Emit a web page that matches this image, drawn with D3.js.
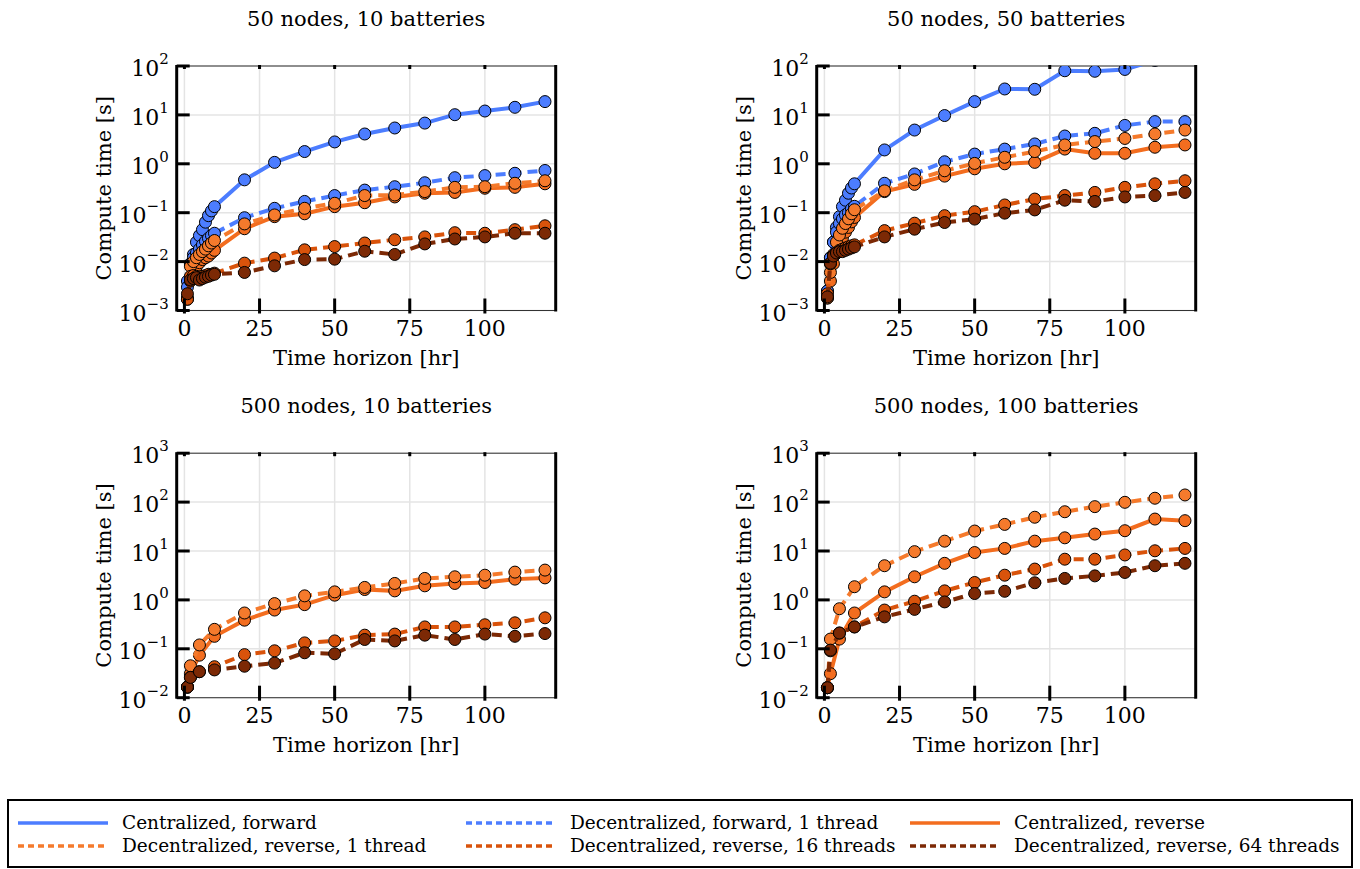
<!DOCTYPE html>
<html>
<head>
<meta charset="utf-8">
<script src="https://cdn.jsdelivr.net/npm/d3@7"></script>
<style>
  body { margin: 0; background: #fff; }
</style>
</head>
<body>
<svg id="chart" width="1360" height="869"></svg>
<script>
// horizons (hours)
var xTop = [1, 2, 3, 4, 5, 6, 7, 8, 9, 10, 20, 30, 40, 50, 60, 70, 80, 90, 100, 110, 120];
var xBottom = [1, 2, 5, 10, 20, 30, 40, 50, 60, 70, 80, 90, 100, 110, 120];
var xTicks = [0, 25, 50, 75, 100];

// 50 nodes, 10 batteries
var cf1 = [0.004, 0.009, 0.014, 0.025, 0.034, 0.045, 0.064, 0.087, 0.109, 0.133, 0.47, 1.07, 1.78, 2.8, 4.07, 5.4, 6.8, 10.1, 12, 14.3, 18.7];
var df1 = [0.003, 0.009, 0.012, 0.015, 0.018, 0.022, 0.026, 0.03, 0.034, 0.038, 0.079, 0.123, 0.17, 0.224, 0.29, 0.34, 0.41, 0.52, 0.574, 0.64, 0.73];
var cr1 = [0.0018, 0.004, 0.0065, 0.008, 0.0095, 0.011, 0.012, 0.013, 0.015, 0.017, 0.047, 0.083, 0.095, 0.133, 0.16, 0.21, 0.25, 0.26, 0.316, 0.33, 0.39];
var d1r1 = [0.0017, 0.008, 0.01, 0.012, 0.014, 0.016, 0.018, 0.021, 0.024, 0.027, 0.059, 0.09, 0.123, 0.156, 0.224, 0.23, 0.27, 0.33, 0.34, 0.4, 0.45];
var d16r1 = [0.0017, 0.005, 0.0052, 0.005, 0.0048, 0.005, 0.0052, 0.0055, 0.0055, 0.0058, 0.0093, 0.0118, 0.0174, 0.0203, 0.024, 0.028, 0.032, 0.039, 0.038, 0.045, 0.054];
var d64r1 = [0.0022, 0.0042, 0.0045, 0.0047, 0.0042, 0.0045, 0.0048, 0.005, 0.0053, 0.0055, 0.006, 0.0082, 0.011, 0.0112, 0.0163, 0.014, 0.023, 0.029, 0.032, 0.038, 0.038];

// 50 nodes, 50 batteries
var cf2 = [0.0025, 0.012, 0.025, 0.05, 0.083, 0.133, 0.18, 0.25, 0.32, 0.39, 1.92, 4.9, 9.7, 18.7, 33.9, 33.4, 80, 78, 85, 130, 170];
var df2 = [0.0025, 0.012, 0.025, 0.04, 0.06, 0.075, 0.09, 0.1, 0.12, 0.135, 0.4, 0.62, 1.1, 1.58, 2.0, 2.55, 3.7, 4.2, 6.1, 7.3, 7.3];
var cr2 = [0.0018, 0.004, 0.009, 0.015, 0.022, 0.03, 0.04, 0.05, 0.065, 0.08, 0.27, 0.38, 0.56, 0.79, 1.0, 1.07, 2.0, 1.64, 1.64, 2.18, 2.43];
var d1r2 = [0.0018, 0.006, 0.014, 0.025, 0.035, 0.048, 0.06, 0.075, 0.095, 0.115, 0.28, 0.47, 0.72, 1.02, 1.36, 1.78, 2.43, 2.85, 3.3, 4.07, 4.9];
var d16r2 = [0.0022, 0.009, 0.013, 0.015, 0.017, 0.018, 0.019, 0.02, 0.021, 0.022, 0.043, 0.061, 0.087, 0.105, 0.144, 0.19, 0.224, 0.26, 0.33, 0.39, 0.45];
var d64r2 = [0.0019, 0.0093, 0.013, 0.015, 0.016, 0.016, 0.017, 0.018, 0.019, 0.02, 0.032, 0.046, 0.063, 0.074, 0.098, 0.114, 0.18, 0.17, 0.21, 0.224, 0.26];

// 500 nodes, 10 batteries
var cr3 = [0.0165, 0.031, 0.074, 0.18, 0.385, 0.62, 0.8, 1.25, 1.63, 1.53, 1.94, 2.17, 2.27, 2.66, 2.82];
var d1r3 = [0.0165, 0.045, 0.12, 0.25, 0.54, 0.84, 1.21, 1.46, 1.8, 2.17, 2.75, 2.97, 3.2, 3.7, 4.07];
var d16r3 = [0.0165, 0.026, 0.034, 0.043, 0.076, 0.091, 0.132, 0.145, 0.19, 0.2, 0.28, 0.28, 0.31, 0.34, 0.43];
var d64r3 = [0.0165, 0.026, 0.034, 0.037, 0.044, 0.051, 0.083, 0.079, 0.155, 0.145, 0.19, 0.155, 0.2, 0.18, 0.205];

// 500 nodes, 100 batteries
var cr4 = [0.016, 0.031, 0.158, 0.54, 1.46, 2.97, 5.6, 9.3, 11.3, 15.9, 18.6, 22.2, 26, 45, 41.7];
var d1r4 = [0.016, 0.158, 0.66, 1.86, 5.0, 9.7, 15.9, 25.6, 35, 49, 63.5, 80.7, 99, 120, 140];
var d16r4 = [0.016, 0.091, 0.21, 0.28, 0.62, 0.94, 1.53, 2.27, 3.2, 4.27, 6.8, 6.8, 8.3, 10.1, 11.3];
var d64r4 = [0.016, 0.094, 0.21, 0.28, 0.45, 0.64, 0.91, 1.35, 1.5, 2.24, 2.75, 3.1, 3.64, 5.0, 5.6];

var seriesNames = ['Centralized, forward', 'Decentralized, forward, 1 thread', 'Centralized, reverse',
  'Decentralized, reverse, 1 thread', 'Decentralized, reverse, 16 threads', 'Decentralized, reverse, 64 threads'];
var seriesColors = ['#4c7dff', '#4c7dff', '#f36d1f', '#f57a2c', '#d9530b', '#7c2905'];
var seriesDashed = [false, true, false, true, true, true];

var panels = [
  { title: '50 nodes, 10 batteries', x: xTop, ylim: [1e-3, 1e2], col: 0, row: 0, data: [cf1, df1, cr1, d1r1, d16r1, d64r1] },
  { title: '50 nodes, 50 batteries', x: xTop, ylim: [1e-3, 1e2], col: 1, row: 0, data: [cf2, df2, cr2, d1r2, d16r2, d64r2] },
  { title: '500 nodes, 10 batteries', x: xBottom, ylim: [1e-2, 1e3], col: 0, row: 1, data: [null, null, cr3, d1r3, d16r3, d64r3] },
  { title: '500 nodes, 100 batteries', x: xBottom, ylim: [1e-2, 1e3], col: 1, row: 1, data: [null, null, cr4, d1r4, d16r4, d64r4] }
];

var FONT = 'DejaVu Serif';
var svg = d3.select('#chart');
var plotW = 379, plotH = 244.5;
var lefts = [176.7, 816.7], tops = [66, 453.2];

function label(sel) {
  return sel.style('font-family', FONT).attr('fill', '#000');
}

panels.forEach(function(p, pi) {
  var x0 = lefts[p.col], y0 = tops[p.row];
  var pad = (120 - 1) * 0.03;
  var xScale = d3.scaleLinear().domain([1 - pad, 120 + pad]).range([0, plotW]);
  var yScale = d3.scaleLog().domain(p.ylim).range([plotH, 0]);
  var yTicks = d3.range(Math.log10(p.ylim[0]), Math.log10(p.ylim[1]) + 1);

  var g = svg.append('g').attr('transform', 'translate(' + x0 + ',' + y0 + ')');

  g.append('defs').append('clipPath').attr('id', 'clip' + pi)
    .append('rect').attr('x', 0).attr('y', 0).attr('width', plotW).attr('height', plotH);

  // grid
  g.append('g').selectAll('line').data(xTicks).enter().append('line')
    .attr('x1', function(d) { return xScale(d); }).attr('x2', function(d) { return xScale(d); })
    .attr('y1', 0).attr('y2', plotH)
    .attr('stroke', '#e4e4e4').attr('stroke-width', 1.5);
  g.append('g').selectAll('line').data(yTicks).enter().append('line')
    .attr('x1', 0).attr('x2', plotW)
    .attr('y1', function(e) { return yScale(Math.pow(10, e)); })
    .attr('y2', function(e) { return yScale(Math.pow(10, e)); })
    .attr('stroke', '#e4e4e4').attr('stroke-width', 1.5);

  // thin box
  g.append('rect').attr('x', 0).attr('y', 0).attr('width', plotW).attr('height', plotH)
    .attr('fill', 'none').attr('stroke', '#333').attr('stroke-width', 1);

  // series
  var line = d3.line()
    .defined(function(d) { return d[1] != null; })
    .x(function(d) { return xScale(d[0]); })
    .y(function(d) { return yScale(d[1]); });

  var plotG = g.append('g').attr('clip-path', 'url(#clip' + pi + ')');
  p.data.forEach(function(vals, si) {
    if (!vals) { return; }
    var pts = p.x.map(function(xv, i) { return [xv, vals[i]]; });
    plotG.append('path').datum(pts)
      .attr('d', line)
      .attr('fill', 'none')
      .attr('stroke', seriesColors[si])
      .attr('stroke-width', 4)
      .attr('stroke-dasharray', seriesDashed[si] ? '10,6' : null);
    plotG.append('g').selectAll('circle').data(pts).enter().append('circle')
      .attr('cx', function(d) { return xScale(d[0]); })
      .attr('cy', function(d) { return yScale(d[1]); })
      .attr('r', 6)
      .attr('fill', seriesColors[si])
      .attr('stroke', '#000')
      .attr('stroke-width', 1);
  });

  // spines
  g.append('line').attr('x1', 0).attr('x2', 0).attr('y1', -1).attr('y2', plotH + 1)
    .attr('stroke', '#000').attr('stroke-width', 3);
  g.append('line').attr('x1', plotW).attr('x2', plotW).attr('y1', -1).attr('y2', plotH + 1)
    .attr('stroke', '#000').attr('stroke-width', 3);

  // ticks
  g.append('g').selectAll('line').data(yTicks).enter().append('line')
    .attr('x1', 0).attr('x2', 13)
    .attr('y1', function(e) { return yScale(Math.pow(10, e)); })
    .attr('y2', function(e) { return yScale(Math.pow(10, e)); })
    .attr('stroke', '#000').attr('stroke-width', 3);
  g.append('g').selectAll('line').data(xTicks).enter().append('line')
    .attr('x1', function(d) { return xScale(d); }).attr('x2', function(d) { return xScale(d); })
    .attr('y1', plotH + 3).attr('y2', plotH - 12)
    .attr('stroke', '#000').attr('stroke-width', 3);
  g.append('g').selectAll('line').data(xTicks).enter().append('line')
    .attr('x1', function(d) { return xScale(d); }).attr('x2', function(d) { return xScale(d); })
    .attr('y1', -1).attr('y2', 3)
    .attr('stroke', '#000').attr('stroke-width', 3);

  // tick labels
  label(g.append('g').selectAll('text').data(xTicks).enter().append('text'))
    .attr('x', function(d) { return xScale(d); })
    .attr('y', plotH + 25)
    .attr('text-anchor', 'middle')
    .attr('font-size', 22)
    .text(function(d) { return d; });
  var yl = label(g.append('g').selectAll('text').data(yTicks).enter().append('text'))
    .attr('x', -8)
    .attr('y', function(e) { return yScale(Math.pow(10, e)) + 10; })
    .attr('text-anchor', 'end')
    .attr('font-size', 22);
  yl.append('tspan').text('10');
  yl.append('tspan').attr('dy', -12).attr('font-size', 15)
    .text(function(e) { return e < 0 ? '\u2212' + (-e) : e; });

  // titles
  label(g.append('text')).attr('x', plotW / 2).attr('y', -40)
    .attr('text-anchor', 'middle').attr('font-size', 21).text(p.title);
  label(g.append('text')).attr('x', plotW / 2).attr('y', plotH + 54)
    .attr('text-anchor', 'middle').attr('font-size', 21).text('Time horizon [hr]');
  label(g.append('text'))
    .attr('transform', 'translate(' + (-66) + ',' + (plotH / 2) + ') rotate(-90)')
    .attr('text-anchor', 'middle').attr('font-size', 21).text('Compute time [s]');
});

// legend
var legend = svg.append('g');
legend.append('rect').attr('x', 8).attr('y', 800).attr('width', 1344).attr('height', 67)
  .attr('fill', '#fff').attr('stroke', '#000').attr('stroke-width', 2);
var legCols = [18, 466, 910];
seriesNames.forEach(function(name, i) {
  var cx = legCols[i % 3], cy = i < 3 ? 823 : 846;
  legend.append('line').attr('x1', cx).attr('x2', cx + 90).attr('y1', cy).attr('y2', cy)
    .attr('stroke', seriesColors[i]).attr('stroke-width', 3.5)
    .attr('stroke-dasharray', seriesDashed[i] ? '6,4' : null);
  label(legend.append('text')).attr('x', cx + 104).attr('y', cy + 6).attr('font-size', 18.5).text(name);
});
</script>
</body>
</html>
